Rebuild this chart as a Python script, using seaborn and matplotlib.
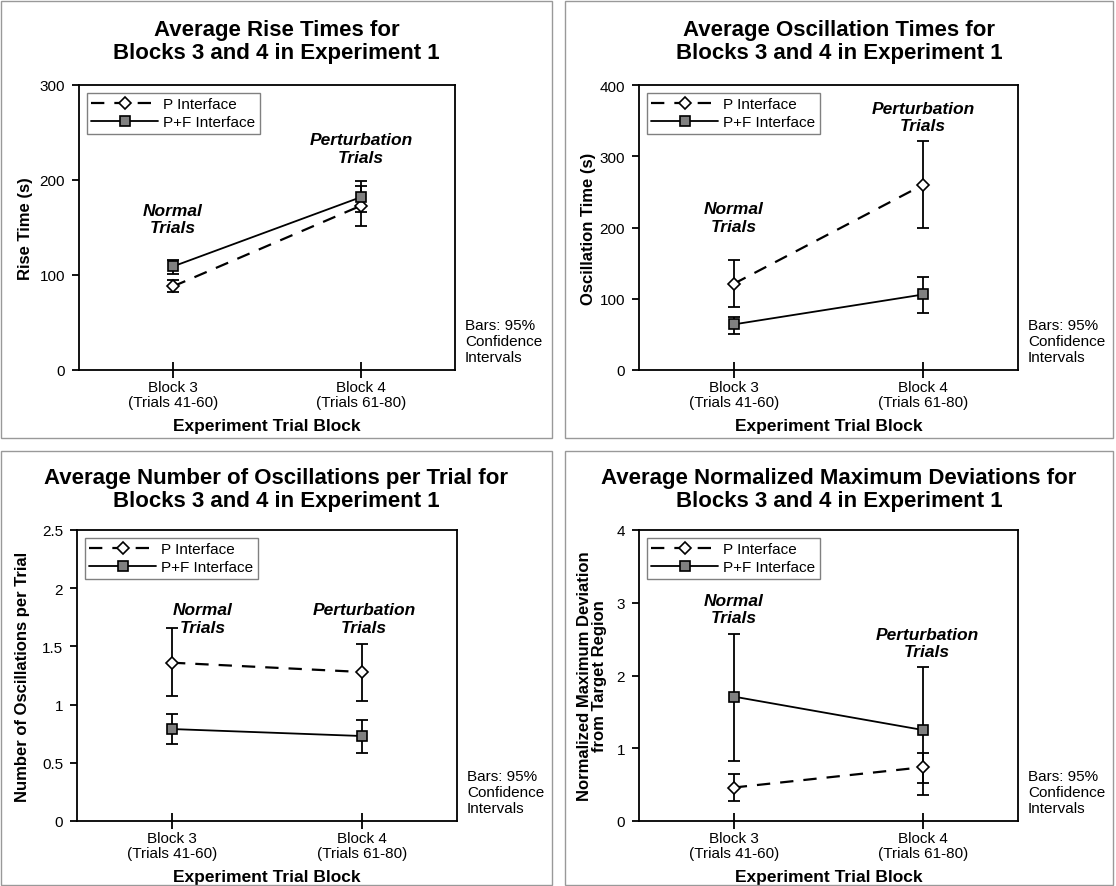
import matplotlib
matplotlib.use("Agg")
import matplotlib.pyplot as plt
import seaborn as sns
import pandas as pd
from matplotlib.patches import Rectangle

# ---------------- data ----------------
blocks = ["Block 3\n(Trials 41-60)", "Block 4\n(Trials 61-80)"]
interfaces = ["P Interface", "P+F Interface"]

rise_p = [88, 173]
rise_p_lo = [82, 152]
rise_p_hi = [95, 194]
rise_pf = [109, 182]
rise_pf_lo = [101, 166]
rise_pf_hi = [116, 199]

osc_p = [121, 260]
osc_p_lo = [89, 200]
osc_p_hi = [155, 322]
osc_pf = [64, 106]
osc_pf_lo = [51, 80]
osc_pf_hi = [75, 131]

num_p = [1.36, 1.28]
num_p_lo = [1.07, 1.03]
num_p_hi = [1.66, 1.52]
num_pf = [0.79, 0.73]
num_pf_lo = [0.66, 0.58]
num_pf_hi = [0.92, 0.87]

dev_p = [0.46, 0.74]
dev_p_lo = [0.28, 0.52]
dev_p_hi = [0.64, 0.94]
dev_pf = [1.71, 1.25]
dev_pf_lo = [0.82, 0.36]
dev_pf_hi = [2.57, 2.11]

titles = [
    "Average Rise Times for\nBlocks 3 and 4 in Experiment 1",
    "Average Oscillation Times for\nBlocks 3 and 4 in Experiment 1",
    "Average Number of Oscillations per Trial for\nBlocks 3 and 4 in Experiment 1",
    "Average Normalized Maximum Deviations for\nBlocks 3 and 4 in Experiment 1",
]
ylabels = [
    "Rise Time (s)",
    "Oscillation Time (s)",
    "Number of Oscillations per Trial",
    "Normalized Maximum Deviation\nfrom Target Region",
]
yticks = [
    [0, 100, 200, 300],
    [0, 100, 200, 300, 400],
    [0, 0.5, 1, 1.5, 2, 2.5],
    [0, 1, 2, 3, 4],
]
ytick_labels = [
    ["0", "100", "200", "300"],
    ["0", "100", "200", "300", "400"],
    ["0", "0.5", "1", "1.5", "2", "2.5"],
    ["0", "1", "2", "3", "4"],
]
xlabel = "Experiment Trial Block"
note = "Bars: 95%\nConfidence\nIntervals"
normal_label = "Normal\nTrials"
perturb_label = "Perturbation\nTrials"

panels = [
    (rise_p, rise_p_lo, rise_p_hi, rise_pf, rise_pf_lo, rise_pf_hi),
    (osc_p, osc_p_lo, osc_p_hi, osc_pf, osc_pf_lo, osc_pf_hi),
    (num_p, num_p_lo, num_p_hi, num_pf, num_pf_lo, num_pf_hi),
    (dev_p, dev_p_lo, dev_p_hi, dev_pf, dev_pf_lo, dev_pf_hi),
]
# annotation anchor (x category index, y data)
normal_pos = [(0, 159), (0, 214), (0.16, 1.74), (0, 2.91)]
perturb_pos = [(1, 233), (1, 355), (1.01, 1.74), (1.02, 2.45)]

# ---------------- style ----------------
sns.set_theme(style="white")
plt.rcParams["font.family"] = ["Liberation Sans", "DejaVu Sans"]
plt.rcParams["text.color"] = "black"
plt.rcParams["axes.labelcolor"] = "black"
plt.rcParams["xtick.color"] = "black"
plt.rcParams["ytick.color"] = "black"

W, H = 1116, 887
fig = plt.figure(figsize=(W / 100, H / 100), dpi=100)

# axes boxes in pixels: left, top, right, bottom
ax_px = [
    (79, 86, 455, 371),
    (639, 86, 1018, 371),
    (77, 531, 457, 822),
    (639, 531, 1018, 822),
]
# panel frames in pixels: left, top, right, bottom
frame_px = [
    (1, 2, 552, 439),
    (565, 2, 1113, 439),
    (1, 452, 552, 886),
    (565, 452, 1113, 886),
]
title_y = [42, 42, 490, 490]
ylabel_x = [26, 588, 23, 592]

for i in range(4):
    l, t, r, b = ax_px[i]
    ax = fig.add_axes([l / W, 1 - b / H, (r - l) / W, (b - t) / H])
    p, plo, phi, pf, pflo, pfhi = panels[i]

    df_p = pd.DataFrame({"block": blocks, "value": p})
    df_pf = pd.DataFrame({"block": blocks, "value": pf})

    # error bars (95% CI)
    ax.errorbar(blocks, pf, yerr=[[m - lo for m, lo in zip(pf, pflo)],
                                  [hi - m for m, hi in zip(pf, pfhi)]],
                fmt="none", ecolor="black", elinewidth=1.3, capsize=4.5,
                capthick=1.3, zorder=2)
    ax.errorbar(blocks, p, yerr=[[m - lo for m, lo in zip(p, plo)],
                                 [hi - m for m, hi in zip(p, phi)]],
                fmt="none", ecolor="black", elinewidth=1.3, capsize=4.5,
                capthick=1.3, zorder=2)

    sns.lineplot(data=df_p, x="block", y="value", ax=ax, color="black",
                 linestyle=(0, (6, 4.5)), linewidth=1.6, marker="D",
                 markersize=6.5, markerfacecolor="white",
                 markeredgecolor="black", markeredgewidth=1.2,
                 label=interfaces[0], errorbar=None, sort=False, zorder=3)
    sns.lineplot(data=df_pf, x="block", y="value", ax=ax, color="black",
                 linestyle="-", linewidth=1.3, marker="s",
                 markersize=7, markerfacecolor="#808080",
                 markeredgecolor="black", markeredgewidth=1.2,
                 label=interfaces[1], errorbar=None, sort=False, zorder=3)

    ax.set_xlim(-0.5, 1.5)
    ax.set_ylim(yticks[i][0], yticks[i][-1])
    ax.set_yticks(yticks[i])
    ax.set_yticklabels(ytick_labels[i])
    ax.set_xticks([0, 1])
    ax.set_xticklabels(blocks)

    for s in ax.spines.values():
        s.set_color("black")
        s.set_linewidth(1.3)
    ax.tick_params(axis="y", direction="out", length=5, width=1.3,
                   labelsize=11, pad=5, left=True, colors="black")
    ax.tick_params(axis="x", direction="inout", length=12, width=1.3,
                   labelsize=11, pad=1, bottom=True, colors="black")
    for lab in ax.get_xticklabels():
        lab.set_linespacing(1.1)

    ax.set_xlabel(xlabel, fontsize=12.5, fontweight="bold", va="center",
                  color="black")
    ax.xaxis.set_label_coords(0.5, -56 / (b - t))
    ax.set_ylabel(ylabels[i], fontsize=12, fontweight="bold", va="center",
                  linespacing=1.05, color="black")
    ax.yaxis.set_label_coords((ylabel_x[i] - l) / (r - l), 0.5)

    leg = ax.legend(loc="upper left", fontsize=11, handlelength=4.4,
                    handletextpad=0.3, borderpad=0.3, labelspacing=0.25,
                    fancybox=False, framealpha=1, edgecolor="#808080",
                    borderaxespad=0.5)
    leg.get_frame().set_linewidth(1.0)
    for txt in leg.get_texts():
        txt.set_color("black")

    nx, ny = normal_pos[i]
    ax.text(nx, ny, normal_label, ha="center", va="center", fontsize=12.5,
            fontweight="bold", fontstyle="italic", linespacing=1.2,
            color="black")
    px_, py_ = perturb_pos[i]
    ax.text(px_, py_, perturb_label, ha="center", va="center", fontsize=12.5,
            fontweight="bold", fontstyle="italic", linespacing=1.2,
            color="black")

    ax.text(1 + 10 / (r - l), 29 / (b - t), note, transform=ax.transAxes,
            ha="left", va="center", fontsize=11, linespacing=1.15,
            color="black")

    fl, ft, fr, fb = frame_px[i]
    fig.add_artist(Rectangle((fl / W, 1 - fb / H), (fr - fl) / W, (fb - ft) / H,
                             transform=fig.transFigure, fill=False,
                             edgecolor="#999999", linewidth=1.0))
    fig.text(((fl + fr) / 2) / W, 1 - title_y[i] / H, titles[i], ha="center",
             va="center", fontsize=16, fontweight="bold", linespacing=1.12,
             color="black")

fig.savefig("out.png", dpi=100)
